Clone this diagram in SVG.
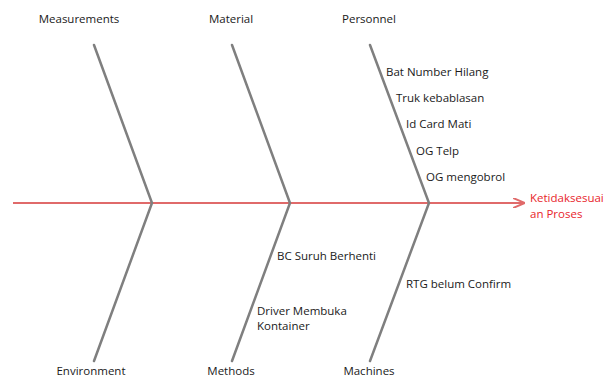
<svg xmlns="http://www.w3.org/2000/svg" width="614" height="378" viewBox="0 0 614 378">
  <style>
    text { font-family: "Open Sans", "Noto Sans", sans-serif; font-size: 11.5px; fill: #1a1a1a; }
    .cat { text-anchor: middle; }
    .effect { fill: #e8252b; }
    .bone { stroke: #7f7f7f; stroke-width: 2.5; fill: none; stroke-linecap: round; }
    .spine { stroke: #e06a6a; stroke-width: 2; fill: none; }
  </style>
  <defs>
    <marker id="head" viewBox="0 0 12 10" refX="11" refY="5" markerWidth="12" markerHeight="10" markerUnits="userSpaceOnUse" orient="auto">
      <path d="M0,0 L12,5 L0,10" fill="none" stroke="#e06a6a" stroke-width="2"/>
    </marker>
  </defs>
  <rect width="614" height="378" fill="#ffffff"/>

  <!-- spine and category bones -->
  <g id="connectors">
    <line class="spine" x1="13" y1="203" x2="524" y2="203" marker-end="url(#head)"/>
    <polyline class="bone" points="94,45 152,203 94,361"/>
    <polyline class="bone" points="232,45 290,203 232,361"/>
    <polyline class="bone" points="370,45 429,203 370,361"/>
  </g>

  <g id="effect">
    <text class="effect" x="530" y="202">Ketidaksesuai</text>
    <text class="effect" x="530" y="218">an Proses</text>
  </g>

  <g id="measurements"><text class="cat" x="79" y="23">Measurements</text></g>
  <g id="material"><text class="cat" x="231" y="23">Material</text></g>
  <g id="personnel">
    <text class="cat" x="369" y="23">Personnel</text>
    <text x="386" y="76">Bat Number Hilang</text>
    <text x="396" y="102">Truk kebablasan</text>
    <text x="406" y="128">Id Card Mati</text>
    <text x="416" y="155">OG Telp</text>
    <text x="426" y="181">OG mengobrol</text>
  </g>
  <g id="environment"><text class="cat" x="91" y="375">Environment</text></g>
  <g id="methods">
    <text class="cat" x="231" y="375">Methods</text>
    <text x="277" y="260">BC Suruh Berhenti</text>
    <text x="257" y="315">Driver Membuka</text>
    <text x="257" y="330">Kontainer</text>
  </g>
  <g id="machines">
    <text class="cat" x="369" y="375">Machines</text>
    <text x="406" y="288">RTG belum Confirm</text>
  </g>
</svg>
